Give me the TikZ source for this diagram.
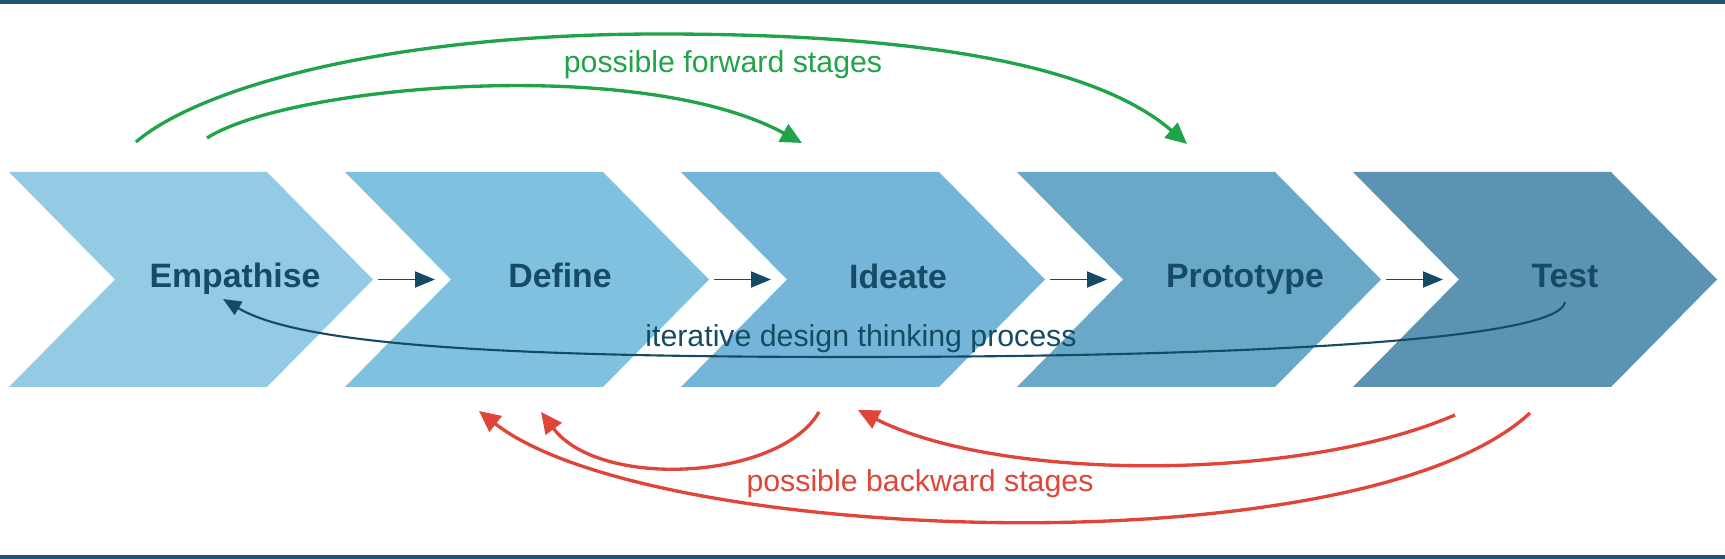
\documentclass[tikz,border=0pt]{standalone}
\usepackage{fontspec}
\setmainfont{Liberation Sans}
\usepackage{tikz}
\usetikzlibrary{arrows.meta}
\usetikzlibrary{calc}
\definecolor{stageempathise}{RGB}{146,203,227}
\definecolor{stagedefine}{RGB}{128,193,224}
\definecolor{stageideate}{RGB}{116,181,217}
\definecolor{stageprototype}{RGB}{106,168,199}
\definecolor{stagetest}{RGB}{90,148,178}
\definecolor{deepteal}{RGB}{22,75,101}
\definecolor{rulecolour}{RGB}{30,86,114}
\definecolor{forwardgreen}{RGB}{33,163,74}
\definecolor{backwardred}{RGB}{224,69,57}

\begin{document}
\begin{tikzpicture}[x=0.33pt, y=-0.33pt,
        stagelabel/.style={font=\fontsize{11.15}{13}\selectfont\bfseries, text=deepteal, inner sep=0pt, anchor=base},
        arclabel/.style={font=\fontsize{10}{12}\selectfont, inner sep=0pt, anchor=base},
        stepflow/.style={draw=deepteal, line width=0.55pt, -{Triangle[length=6.6pt, width=5.3pt]}},
        iterarrow/.style={draw=deepteal, line width=0.7pt, -{Triangle[length=6pt, width=5pt]}},
        fwdarrow/.style={draw=forwardgreen, line width=1.1pt, -{Triangle[length=7pt, width=6.5pt]}},
        bwdarrow/.style={draw=backwardred, line width=1.1pt, -{Triangle[length=7pt, width=6.5pt]}}]
        \useasboundingbox (0,0) rectangle (1725,559);

        \draw[rulecolour, line width=1pt] (0,2) -- (1725,2);
        \draw[rulecolour, line width=1pt] (0,557) -- (1725,557);

        % stages
        \foreach \c [count=\i] in {stageempathise,stagedefine,stageideate,stageprototype,stagetest} {
            \fill[\c] (9+336*\i-336,172) -- ++(258,0) -- ++(106,107.5) -- ++(-106,107.5)
                -- ++(-258,0) -- ++(106,-107.5) -- cycle;
            \coordinate (tip\i)   at (373+336*\i-336,279.5);
            \coordinate (notch\i) at (115+336*\i-336,279.5);
        }

        \node[stagelabel] (emp) at (235,288)  {Empathise};
        \node[stagelabel] (def) at (560,288)  {Define};
        \node[stagelabel] (ide) at (898,289)  {Ideate};
        \node[stagelabel] (pro) at (1245,288) {Prototype};
        \node[stagelabel] (tst) at (1565,288) {Test};

        \foreach \i/\j in {1/2,2/3,3/4,4/5}
            \draw[stepflow] ($(tip\i)+(5,0)$) -- ($(notch\j)+(-16,0)$);

        % iterative loop
        \coordinate (iterstart) at (1565,302);
        \coordinate (iterend)   at (223,299);
        \draw[iterarrow] (iterstart) .. controls (1560,340) and (1250,357) .. (850,357)
            .. controls (500,357) and (300,345) .. (iterend);
        \node[arclabel, text=deepteal] (iterlabel) at (861,347) {iterative design thinking process};

        % forward stages
        \coordinate (fwdouterstart) at (136,142);
        \coordinate (fwdinnerstart) at (207,138);
        \coordinate (fwdtoideate)   at (802,143);
        \coordinate (fwdtoproto)    at (1187,144);
        \draw[fwdarrow] (fwdouterstart) .. controls (196,90) and (380,34) .. (660,34)
            .. controls (900,34) and (1090,60) .. (fwdtoproto);
        \draw[fwdarrow] (fwdinnerstart) .. controls (290,85) and (640,55) .. (fwdtoideate);
        \node[arclabel, text=forwardgreen] (fwdlabel) at (723,73) {possible forward stages};

        % backward stages
        \coordinate (bwdlongstart)  at (1530,413);
        \coordinate (bwdlongend)    at (479,411);
        \coordinate (bwdmidstart)   at (1455,415);
        \coordinate (bwdmidend)     at (858,410);
        \coordinate (bwdshortstart) at (819,412);
        \coordinate (bwdshortend)   at (541,412);
        \draw[bwdarrow] (bwdlongstart) .. controls (1360,570) and (650,545) .. (bwdlongend);
        \draw[bwdarrow] (bwdmidstart) .. controls (1300,482) and (1000,482) .. (bwdmidend);
        \draw[bwdarrow] (bwdshortstart) .. controls (780,480) and (600,490) .. (bwdshortend);
        \node[arclabel, text=backwardred] (bwdlabel) at (920,492) {possible backward stages};
    \end{tikzpicture}
\end{document}
